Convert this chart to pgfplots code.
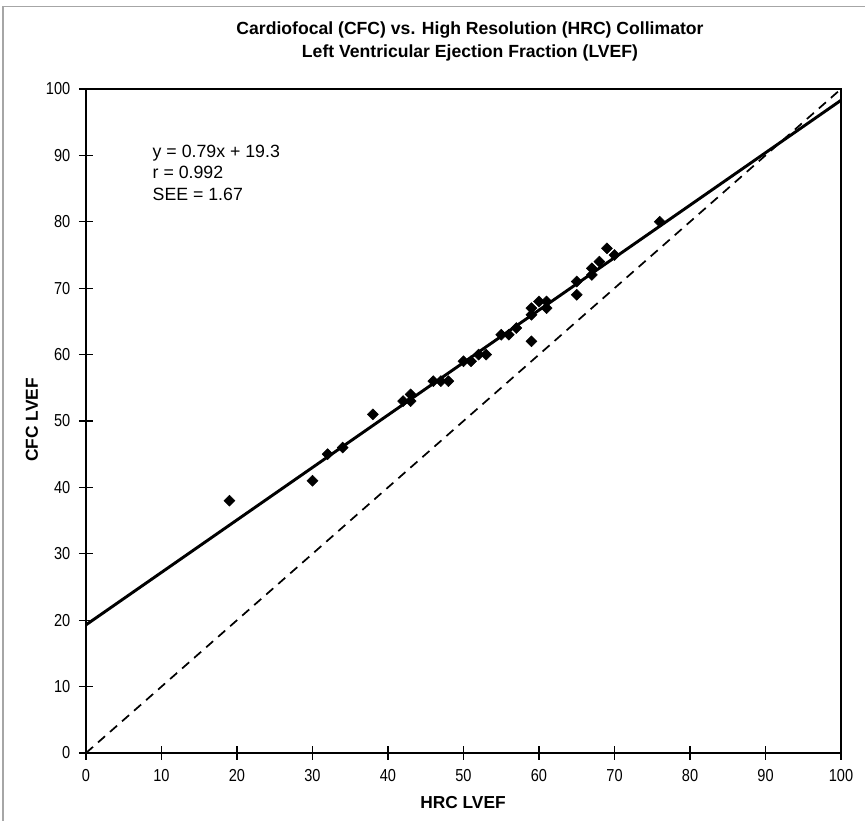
\documentclass[border=0pt]{standalone}
\usepackage{fontspec}
\setmainfont{Liberation Sans}
\newfontfamily\narrow[FakeStretch=0.84]{Liberation Sans}
\usepackage{pgfplots}
\pgfplotsset{compat=1.18}
\begin{document}
\begin{tikzpicture}
\useasboundingbox (-64.5pt,-51pt) rectangle (584.25pt,564.75pt);
\draw[gray!70, line width=0.8pt] (-62.25pt,-51pt) -- (-62.25pt,560pt) -- (584.25pt,560pt);
\begin{axis}[
  at={(0pt,0pt)}, anchor=south west,
  scale only axis, width=566.25pt, height=498pt,
  xmin=0, xmax=100, ymin=0, ymax=100,
  xtick={0,10,...,100}, ytick={0,10,...,100},
  xtick pos=bottom, ytick pos=left,
  tick align=center, major tick length=10.5pt,
  tick style={line width=1pt, black},
  axis line style={line width=1.3pt},
  /pgf/number format/assume math mode=true,
  ticklabel style={font=\narrow\fontsize{13}{15}\selectfont},
  xticklabel style={yshift=-3.5pt},
  yticklabel style={xshift=-3pt},
  clip=false,
]
\addplot[black, line width=2.2pt, no marks] coordinates {(0,19.3) (100,98.3)};
\addplot[black, line width=1.3pt, dash pattern=on 7pt off 5pt, no marks] coordinates {(0,0) (100,100)};
\addplot[only marks, mark=square*, mark size=2.9pt, mark options={rotate=45, fill=black, draw=black}] coordinates {
(19,38) (30,41) (32,45) (34,46) (38,51) (42,53) (43,54) (43,53)
(46,56) (47,56) (48,56) (50,59) (51,59) (52,60) (53,60)
(55,63) (56,63) (57,64) (59,67) (59,66) (59,62)
(60,68) (61,68) (61,67) (65,71) (65,69)
(67,73) (67,72) (68,74) (69,76) (70,75) (76,80)
};
\node[anchor=north west, align=left, font=\fontsize{13.3}{16}\selectfont, inner sep=0pt] at (axis cs:8.8,91.6) {y = 0.79x + 19.3\\r = 0.992\\SEE = 1.67};
\end{axis}
\node[font=\bfseries\fontsize{13.2}{17.2}\selectfont, align=center] at (288pt,534pt) {Cardiofocal (CFC) vs. High Resolution (HRC) Collimator\\Left Ventricular Ejection Fraction (LVEF)};
\node[font=\bfseries\fontsize{13}{15}\selectfont] at (282.75pt,-37.5pt) {HRC LVEF};
\node[font=\bfseries\fontsize{13}{15}\selectfont, rotate=90] at (-40.5pt,249.75pt) {CFC LVEF};
\end{tikzpicture}
\end{document}
